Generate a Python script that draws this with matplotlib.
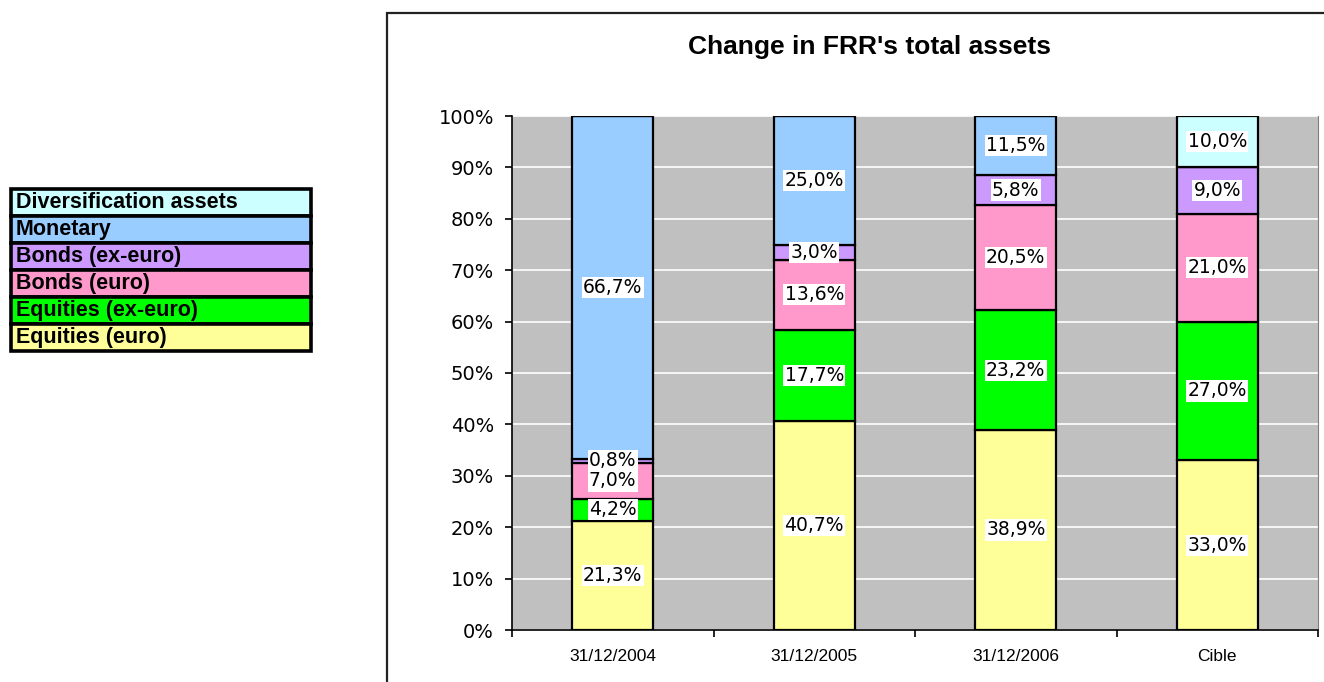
import matplotlib
matplotlib.use("Agg")
import matplotlib.pyplot as plt
from matplotlib.patches import Rectangle
import numpy as np

categories = ["31/12/2004", "31/12/2005", "31/12/2006", "Cible"]
series_names = ["Equities (euro)", "Equities (ex-euro)", "Bonds (euro)",
                "Bonds (ex-euro)", "Monetary", "Diversification assets"]
equities_euro = [21.3, 40.7, 38.9, 33.0]
equities_ex_euro = [4.2, 17.7, 23.2, 27.0]
bonds_euro = [7.0, 13.6, 20.5, 21.0]
bonds_ex_euro = [0.8, 3.0, 5.8, 9.0]
monetary = [66.7, 25.0, 11.5, 0.0]
diversification = [0.0, 0.0, 0.0, 10.0]
colors = ["#FFFF99", "#00FF00", "#FF99CC", "#CC99FF", "#99CCFF", "#CCFFFF"]
title = "Change in FRR's total assets"

series = [equities_euro, equities_ex_euro, bonds_euro, bonds_ex_euro,
          monetary, diversification]

W, H = 1324, 682
fig = plt.figure(figsize=(W / 100, H / 100), dpi=100)

# outer chart border
fig.add_artist(Rectangle((387 / W, -0.05), 1.0, 1 - 13 / H + 0.05,
                         transform=fig.transFigure, fill=False,
                         edgecolor="#222222", linewidth=1.6))

ax = fig.add_axes([512 / W, 52 / H, 806 / W, 514 / H])
ax.set_facecolor("#C0C0C0")

x = np.arange(len(categories))
data = np.array(series, dtype=float)
totals = data.sum(axis=0)
pct = data / totals * 100

bottom = np.zeros(len(categories))
for vals, p, col in zip(data, pct, colors):
    ax.bar(x, p, width=0.4, bottom=bottom, color=col, edgecolor="black",
           linewidth=1.6, zorder=3)
    for xi, v, pi, bi in zip(x, vals, p, bottom):
        if v > 0:
            ax.text(xi, bi + pi / 2, f"{v:.1f}%".replace(".", ","),
                    ha="center", va="center", fontsize=13.5,
                    family="DejaVu Sans", zorder=5,
                    bbox=dict(facecolor="white", edgecolor="none", pad=0.8))
    bottom += p

ax.set_xlim(-0.5, len(categories) - 0.5)
ax.set_ylim(0, 100)
ax.set_yticks(np.arange(0, 101, 10))
ax.set_yticklabels([f"{v}%" for v in range(0, 101, 10)],
                   fontsize=14, family="DejaVu Sans")
ax.yaxis.grid(True, color="white", linewidth=1.2, zorder=1)
ax.set_axisbelow(True)

ax.set_xticks(x)
ax.set_xticklabels(categories, fontsize=12.5, family="Liberation Sans")
ax.set_xticks(np.arange(-0.5, len(categories)), minor=True)
ax.tick_params(axis="x", which="major", length=0, pad=14)
ax.tick_params(axis="x", which="minor", length=5, width=1.2, direction="out")
ax.tick_params(axis="y", length=5, width=1.2, direction="out", pad=8)

ax.spines["top"].set_visible(False)
ax.spines["right"].set_color("#808080")
ax.spines["left"].set_linewidth(1.2)
ax.spines["bottom"].set_linewidth(1.2)

fig.text(869 / W, 1 - 47 / H, title, ha="center", va="center",
         fontsize=19, fontweight="bold", family="Liberation Sans")

# legend (custom, top to bottom: reversed stacking order)
lx0, ly0, lw, rh = 11, 189, 300, 27
for i, (name, col) in enumerate(zip(series_names[::-1], colors[::-1])):
    y_top = ly0 + i * rh
    fig.add_artist(Rectangle((lx0 / W, 1 - (y_top + rh) / H), lw / W, rh / H,
                             transform=fig.transFigure, facecolor=col,
                             edgecolor="black", linewidth=2.6))
    fig.text((lx0 + 5) / W, 1 - (y_top + rh / 2) / H, name, ha="left",
             va="center", fontsize=15.5, fontweight="bold",
             family="Liberation Sans")

fig.savefig("out.png", dpi=100)
